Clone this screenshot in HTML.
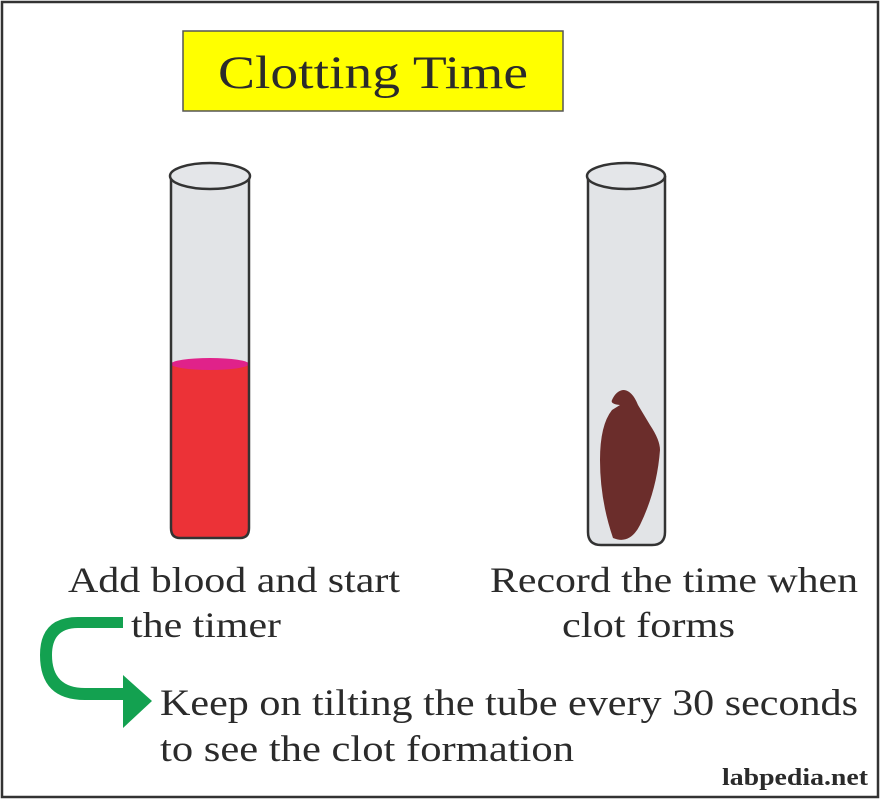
<!DOCTYPE html>
<html><head><meta charset="utf-8"><style>
html,body{margin:0;padding:0;background:#fff;}
svg{display:block;}
text{fill:#2b2b2b;}
</style></head><body>
<svg width="883" height="800" viewBox="0 0 883 800" xmlns="http://www.w3.org/2000/svg" font-family="'Liberation Serif', 'Times New Roman', serif">
<rect x="2" y="2" width="876" height="795" fill="#fff" stroke="#333" stroke-width="2.5"/>
<rect x="183" y="31" width="380" height="80" fill="#ffff00" stroke="#555" stroke-width="1.5"/>
<text x="218" y="88" font-size="47" textLength="310" lengthAdjust="spacingAndGlyphs">Clotting Time</text>

<!-- Tube 1 -->
<path d="M171 176 L171 528 Q171 538 180 538 L240 538 Q249 538 249 528 L249 176 Z" fill="#e2e4e7"/>
<path d="M171 364 L171 528 Q171 538 180 538 L240 538 Q249 538 249 528 L249 364 Z" fill="#ec3237"/>
<ellipse cx="210" cy="364" rx="39" ry="6" fill="#e0228a"/>
<path d="M171 176 L171 528 Q171 538 180 538 L240 538 Q249 538 249 528 L249 176" fill="none" stroke="#333" stroke-width="2.5"/>
<ellipse cx="210" cy="176" rx="40" ry="13" fill="#e4e6e9" stroke="#333" stroke-width="2.5"/>

<!-- Tube 2 -->
<path d="M588 176 L588 532 Q588 545 601 545 L652 545 Q665 545 665 532 L665 176 Z" fill="#e2e4e7"/>
<path d="M623 390 Q632 390 638 405 L650 425 Q660 440 660 450 Q657 490 640 525 Q630 545 613 538 Q600 500 600 460 Q600 425 612 410 L620 405 Q610 404 612 400 Q616 391 623 390 Z" fill="#6b2d2b"/>
<path d="M588 176 L588 532 Q588 545 601 545 L652 545 Q665 545 665 532 L665 176" fill="none" stroke="#333" stroke-width="2.5"/>
<ellipse cx="626" cy="176" rx="39" ry="13" fill="#e4e6e9" stroke="#333" stroke-width="2.5"/>

<!-- Arrow -->
<path d="M123 617 L78 617 Q40 617 40 655 Q40 700 85 700 L123 700 L123 728 L152 701 L123 675 L123 688 L85 688 Q52 688 52 655 Q52 628 78 628 L123 628 Z" fill="#13a150"/>

<text x="68" y="592" font-size="36" textLength="332" lengthAdjust="spacingAndGlyphs">Add blood and start</text>
<text x="131" y="637" font-size="36" textLength="150" lengthAdjust="spacingAndGlyphs">the timer</text>
<text x="490" y="592" font-size="36" textLength="368" lengthAdjust="spacingAndGlyphs">Record the time when</text>
<text x="562" y="637" font-size="36" textLength="173" lengthAdjust="spacingAndGlyphs">clot forms</text>
<text x="160" y="715" font-size="37" textLength="698" lengthAdjust="spacingAndGlyphs">Keep on tilting the tube every 30 seconds</text>
<text x="160" y="761" font-size="37" textLength="414" lengthAdjust="spacingAndGlyphs">to see the clot formation</text>
<text x="722" y="785" font-size="24" font-weight="bold" textLength="146" lengthAdjust="spacingAndGlyphs">labpedia.net</text>
</svg>
</body></html>
